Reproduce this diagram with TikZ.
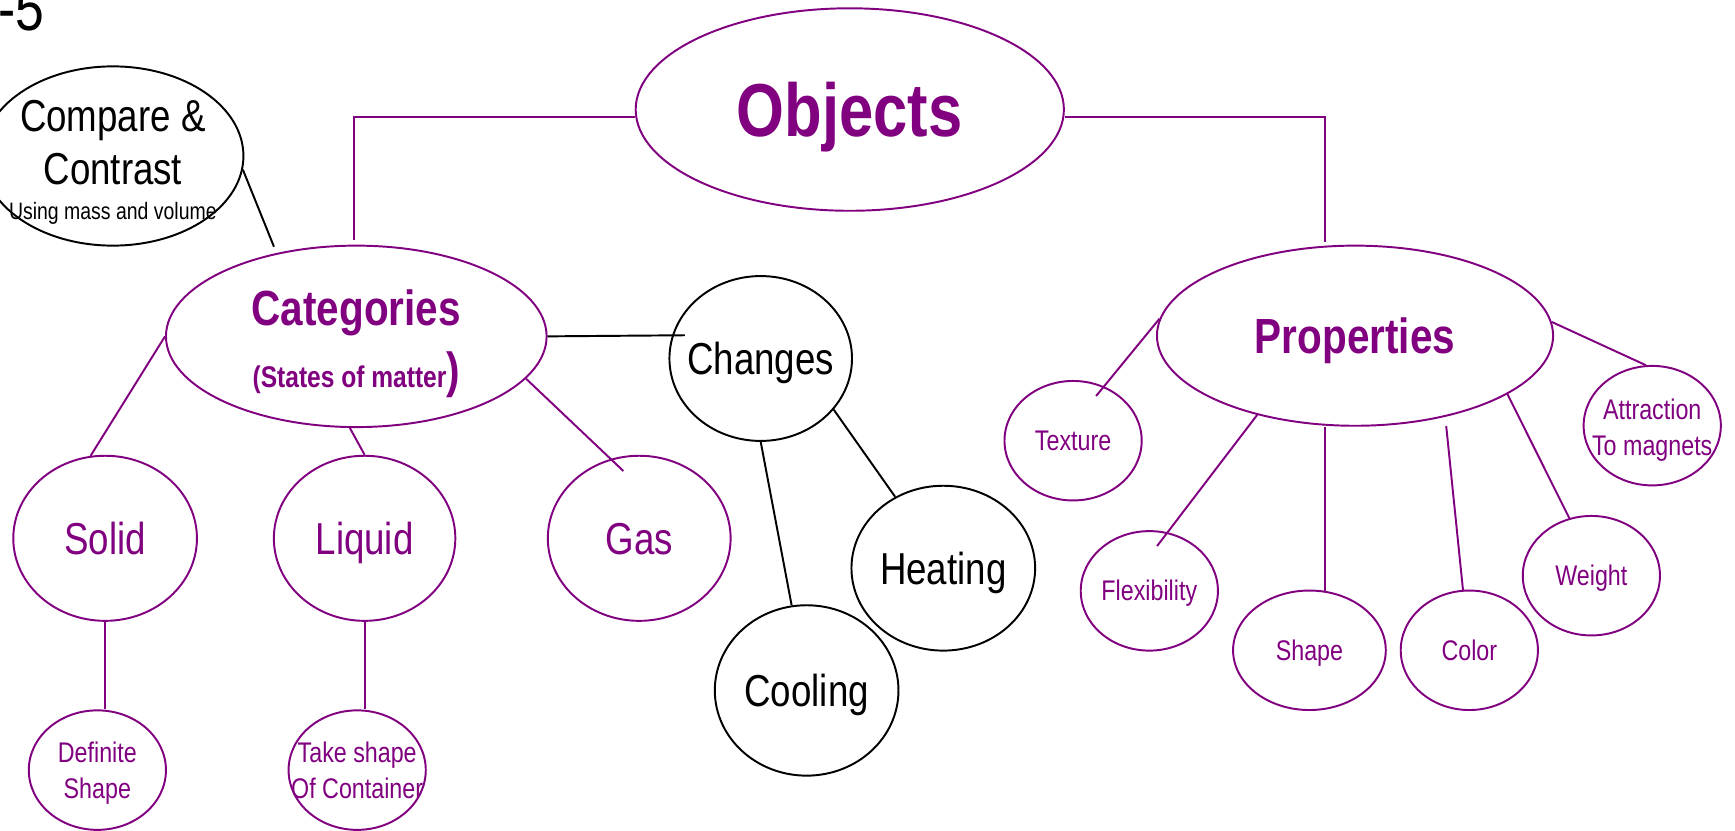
\documentclass[tikz,border=0pt]{standalone}
\usepackage{fontspec}
\setmainfont{Liberation Sans}[FakeStretch=0.82]
\usepackage{tikz}
\usetikzlibrary{shapes.geometric}
\usepackage{xcolor}
\definecolor{conceptpurple}{RGB}{128,0,128}

\tikzset{
    bubble/.style={ellipse, draw, line width=0.5pt, inner sep=-30pt},
    radii/.style 2 args={minimum width=#1*0.2mm, minimum height=#2*0.2mm},
    pbubble/.style={bubble, draw=conceptpurple, text=conceptpurple},
    kbubble/.style={bubble, draw=black, text=black},
    bigtext/.style={font=\fontsize{11.5}{13.7}\selectfont, text height=8.23pt, text depth=0pt},
    smalltext/.style={font=\fontsize{7.3}{9.1}\selectfont, text height=5.2pt, text depth=0pt},
    headtext/.style={font=\bfseries\fontsize{12.7}{15.9}\selectfont, text height=9.1pt, text depth=0pt},
    pline/.style={draw=conceptpurple, line width=0.5pt},
    kline/.style={draw=black, line width=0.5pt}
}

\begin{document}
\begin{tikzpicture}[x=0.1mm, y=-0.1mm]
    % Frame
    \useasboundingbox (0, 0) rectangle (1568, 751);
    \clip (0, 0) rectangle (1568, 751);
    % Page number
    \node [anchor=base east, inner sep=0pt, font=\fontsize{16.2}{19}\selectfont] (pagenum) at (41, 27.7) {-5};
    % Objects
    \node [pbubble, radii={193.5}{91.5}, font=\bfseries\fontsize{19.3}{23}\selectfont, text height=13.8pt, text depth=0pt] (obj) at (768, 99) {Objects};
    % Compare and contrast
    \node [kbubble, radii={118}{81}, bigtext, align=center, text height=32.9pt] (cmp) at (102, 141) {Compare \&\\Contrast\\[-4.65pt]{\fontsize{6.1}{7}\selectfont Using mass and volume}};
    % Categories
    \node [pbubble, radii={172}{82}, headtext, align=center, text height=26.2pt] (cat) at (322, 304) {Categories\\{\fontsize{7.7}{9}\selectfont(States of matter}{)}};
    \node [pbubble, radii={83}{74.6}, bigtext] (sol) at (95, 486.5) {Solid};
    \node [pbubble, radii={82}{74.6}, bigtext] (liq) at (329.5, 486.5) {Liquid};
    \node [pbubble, radii={82.6}{74.6}, bigtext] (gas) at (577.7, 486.5) {Gas};
    \node [pbubble, radii={62}{54}, smalltext, align=center, text height=14.5pt] (def) at (88, 696) {Definite\\Shape};
    \node [pbubble, radii={62}{54}, smalltext, align=center, text height=14.5pt] (take) at (322.8, 696) {Take shape\\Of Container};
    % Changes
    \node [kbubble, radii={82.5}{74.5}, bigtext] (chg) at (687.5, 324) {Changes};
    \node [kbubble, radii={83}{74.5}, bigtext] (heat) at (852.5, 513.5) {Heating};
    \node [kbubble, radii={83}{77}, bigtext] (cool) at (729, 624) {Cooling};
    % Properties
    \node [pbubble, radii={179}{81.4}, headtext] (prop) at (1224.6, 303.4) {Properties};
    \node [pbubble, radii={62}{54}, smalltext] (tex) at (969.8, 398.3) {Texture};
    \node [pbubble, radii={62}{54}, smalltext] (flex) at (1038.7, 534) {Flexibility};
    \node [pbubble, radii={69}{54}, smalltext] (shp) at (1183.4, 587.7) {Shape};
    \node [pbubble, radii={62}{54}, smalltext] (col) at (1327.9, 587.7) {Color};
    \node [pbubble, radii={62}{54}, smalltext] (wgt) at (1438.2, 520.3) {Weight};
    \node [pbubble, radii={62}{54}, smalltext, align=center, text height=15.1pt] (attr) at (1493.2, 384.7) {Attraction\\To magnets};
    % Loose line ends
    \coordinate (catin) at (320, 217);
    \coordinate (propin) at (1197.5, 218.5);
    \coordinate (catcmp) at (247.6, 223);
    \coordinate (chgin) at (619, 303);
    \coordinate (gasin) at (563.4, 425.7);
    \coordinate (texin) at (990.6, 357.9);
    \coordinate (flexin) at (1045.7, 493.5);
    \coordinate (colin) at (1307, 385);
    % Lines from the top
    \draw [pline] ([yshift=-1.8pt]obj.west) -| (catin);
    \draw [pline] ([yshift=-1.8pt]obj.east) -| (propin);
    \draw [kline] (cmp.-6) -- (catcmp);
    % Categories lines
    \draw [kline] (cat.east) -- (chgin);
    \draw [pline] (cat.west) -- (sol.100);
    \draw [pline] (cat.266) -- (liq.north);
    \draw [pline] (cat.-14) -- (gasin);
    \draw [pline] (sol.south) -- (sol.south |- def.north);
    \draw [pline] (liq.south) -- (liq.south |- take.north);
    % Changes lines
    \draw [kline] (chg.-35) -- (heat.124);
    \draw [kline] (chg.south) -- (cool.100);
    % Properties lines
    \draw [pline] (prop.175) -- (texin);
    \draw [pline] (prop.219) -- (flexin);
    \draw [pline] (shp.75.6 |- prop.south) -- (shp.75.6);
    \draw [pline] (colin) -- (col.96);
    \draw [pline] (prop.-21) -- (wgt.111);
    \draw [pline] (prop.4) -- (attr.96);
\end{tikzpicture}
\end{document}
